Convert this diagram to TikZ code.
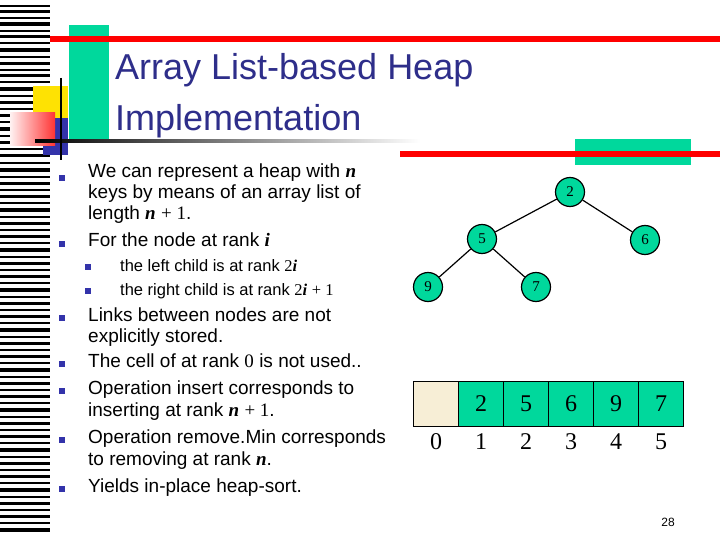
\documentclass[tikz,border=0pt]{standalone}
\usepackage{fontspec}
\setmainfont{Liberation Sans}
\newfontfamily\tms{Liberation Serif}
\newcommand{\mv}[1]{{\tms\bfseries\itshape #1}}
\newcommand{\mr}[1]{{\tms #1}}
\definecolor{teal1}{HTML}{00D89C}
\definecolor{titleblue}{HTML}{2E2E8A}
\definecolor{bul}{HTML}{3333AA}
\definecolor{cream}{HTML}{F7EED6}
\begin{document}
\begin{tikzpicture}[x=1pt,y=-1pt,
  bt/.style={anchor=base west,font=\fontsize{19}{21}\selectfont,inner sep=0},
  st/.style={anchor=base west,font=\fontsize{16.5}{19}\selectfont,inner sep=0},
  bl/.style={fill=bul,minimum size=6pt,inner sep=0},
  hn/.style={circle,draw,line width=1.2pt,fill=teal1,minimum size=29pt,inner sep=0,font=\tms\fontsize{15}{15}\selectfont},
  cell/.style={draw,line width=1.3pt,fill=teal1,minimum width=45pt,minimum height=45pt,inner sep=0,font=\tms\fontsize{24}{24}\selectfont},
  idx/.style={font=\tms\fontsize{24}{24}\selectfont,inner sep=0}]
\useasboundingbox (0,0) rectangle (720,540);
% barcode
\foreach \y/\h in {5/2,10/3,17/2,22/4,30/2,35/3,42/2,48/4,56/2,62/3,69/2,74/3,81/2,87/4,95/2,101/3,108/2,114/3,121/2,127/4,135/2,141/3,148/2,154/3,162/2,168/4,176/2,182/3,189/2,195/3,202/2,208/4,216/2,222/3,229/2,235/3,242/2,248/4,256/2,262/3,269/2,275/3,282/2,288/4,296/2,302/3,309/2,315/3,322/2,328/4,336/2,342/3,349/2,355/3,362/2,368/4,376/2,382/3,389/2,395/3,402/2,408/4,416/2,422/3,429/2,435/3,442/2,448/4,456/2,462/3,469/2,475/3,482/2,488/4,496/2,502/3,509/2,515/3,522/2,528/4}
  \fill (0,\y) rectangle (50,\y+\h);
% decoration
\fill[yellow!85!orange] (33,86) rectangle (68,118);
\fill[bul] (43,118) rectangle (68,155);
\shade[left color=red!5,right color=red!80] (10,113) rectangle (55,146);
\fill[teal1] (69,25) rectangle (109,140);
\fill[red] (50,36) rectangle (720,42);
\shade[left color=black,right color=white] (35,140) rectangle (420,143);
\draw[line width=2pt] (61,78) -- (61,160);
\fill[teal1] (575,139) rectangle (691,165);
\fill[red] (400,151) rectangle (720,157);
% title
\node[anchor=base west,text=titleblue,font=\fontsize{36}{40}\selectfont,inner sep=0] (t1) at (115,80) {Array List-based Heap};
\node[anchor=base west,text=titleblue,font=\fontsize{36}{40}\selectfont,inner sep=0] (t2) at (115,131) {Implementation};
% bullets
\foreach \y in {178,244,318,364,391,440,489} \node[bl] at (62,\y) {};
\foreach \y in {267,291} \node[bl] at (88,\y) {};
\node[bt] (l1) at (88,178) {We can represent a heap with \mv{n}};
\node[bt] (l2) at (88,199) {keys by means of an array list of};
\node[bt] (l3) at (88,220) {length \mv{n} \mr{+ 1}.};
\node[bt] (l4) at (88,246) {For the node at rank \mv{i}};
\node[st] (s1) at (120,271) {the left child is at rank \mr{2}\mv{i}};
\node[st] (s2) at (120,295) {the right child is at rank \mr{2}\mv{i} \mr{+ 1}};
\node[bt] (l5) at (88,321) {Links between nodes are not};
\node[bt] (l6) at (88,342) {explicitly stored.};
\node[bt] (l7) at (88,367) {The cell of at rank \mr{0} is not used..};
\node[bt] (l8) at (88,394) {Operation insert corresponds to};
\node[bt] (l9) at (88,416) {inserting at rank \mv{n} \mr{+ 1}.};
\node[bt] (l10) at (88,443) {Operation remove.Min corresponds};
\node[bt] (l11) at (88,465) {to removing at rank \mv{n}.};
\node[bt] (l12) at (88,492) {Yields in-place heap-sort.};
% tree
\node[hn] (n2) at (570,192) {2};
\node[hn] (n5) at (482,239) {5};
\node[hn] (n6) at (645,240) {6};
\node[hn] (n9) at (428,287) {9};
\node[hn] (n7) at (536,287) {7};
\draw[line width=1.2pt] (n2)--(n5) (n2)--(n6) (n5)--(n9) (n5)--(n7);
% array
\node[cell,fill=cream] (c0) at (436,404) {};
\foreach \i/\v in {1/2,2/5,3/6,4/9,5/7}
  \node[cell] (c\i) at (436+45*\i,404) {\v};
\foreach \i in {0,...,5}
  \node[idx] (i\i) at (436+45*\i,442) {\i};
\node[font=\fontsize{12}{12}\selectfont] (pg) at (668,522) {28};
\end{tikzpicture}
\end{document}
